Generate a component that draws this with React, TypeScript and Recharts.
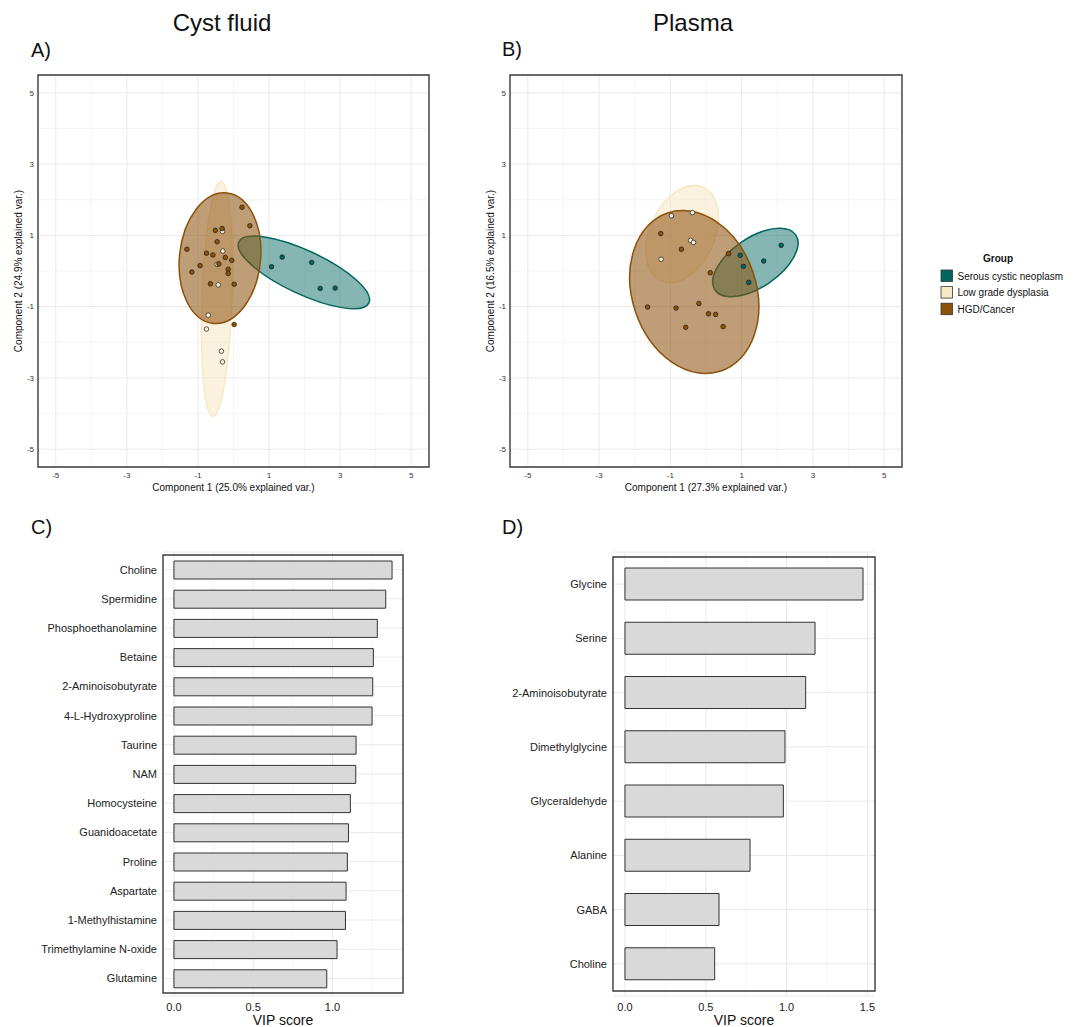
import React from "react";
import {
  ScatterChart,
  Scatter,
  BarChart,
  Bar,
  XAxis,
  YAxis,
  CartesianGrid,
  ReferenceArea,
} from "recharts";

const FONT = '"Liberation Sans", Arial, Helvetica, sans-serif';

const groupNames = ["Serous cystic neoplasm", "Low grade dysplasia", "HGD/Cancer"];
const groupColors = ["#01665e", "#f6e8c3", "#8c510a"];
const pointFills = ["#01665e", "#faf1dc", "#8c510a"];
const ellipseAlpha = [0.48, 0.55, 0.56];

// Panel A - cyst fluid scores
const cystScn = [
  { x: 1.07, y: 0.12 },
  { x: 1.37, y: 0.39 },
  { x: 2.2, y: 0.24 },
  { x: 2.44, y: -0.49 },
  { x: 2.86, y: -0.48 },
];
const cystLgd = [
  { x: -0.31, y: 1.11 },
  { x: -0.3, y: 0.56 },
  { x: -0.46, y: 0.19 },
  { x: -0.43, y: -0.39 },
  { x: -0.71, y: -1.24 },
  { x: -0.76, y: -1.63 },
  { x: -0.34, y: -2.25 },
  { x: -0.31, y: -2.55 },
];
const cystHgd = [
  { x: 0.24, y: 1.79 },
  { x: 0.46, y: 1.27 },
  { x: -0.51, y: 1.14 },
  { x: -0.32, y: 1.19 },
  { x: -0.46, y: 0.82 },
  { x: -1.31, y: 0.61 },
  { x: -0.76, y: 0.5 },
  { x: -0.58, y: 0.45 },
  { x: -0.23, y: 0.38 },
  { x: -0.05, y: 0.3 },
  { x: -0.94, y: 0.15 },
  { x: -0.41, y: 0.2 },
  { x: -1.17, y: -0.03 },
  { x: -0.15, y: 0.05 },
  { x: -0.15, y: -0.07 },
  { x: -0.65, y: -0.36 },
  { x: 0.02, y: -0.37 },
  { x: 0.02, y: -1.5 },
];
// 95% ellipses: centre, semi-axes, rotation in degrees
const cystEllipses = [
  { cx: 1.98, cy: -0.04, a: 2.02, b: 0.61, angle: -25 },
  { cx: -0.465, cy: -0.785, a: 3.3, b: 0.42, angle: 88 },
  { cx: -0.38, cy: 0.36, a: 1.84, b: 1.14, angle: 84 },
];

// Panel B - plasma scores
const plasmaScn = [
  { x: 0.96, y: 0.44 },
  { x: 1.05, y: 0.13 },
  { x: 1.2, y: -0.32 },
  { x: 1.62, y: 0.28 },
  { x: 2.11, y: 0.72 },
];
const plasmaLgd = [
  { x: -0.97, y: 1.55 },
  { x: -0.38, y: 1.64 },
  { x: -0.43, y: 0.86 },
  { x: -0.35, y: 0.8 },
  { x: -1.26, y: 0.33 },
];
const plasmaHgd = [
  { x: -1.27, y: 1.05 },
  { x: -0.69, y: 0.61 },
  { x: 0.12, y: -0.05 },
  { x: 0.63, y: 0.49 },
  { x: -1.64, y: -1.01 },
  { x: -0.84, y: -1.04 },
  { x: -0.2, y: -0.91 },
  { x: 0.07, y: -1.2 },
  { x: 0.27, y: -1.22 },
  { x: -0.57, y: -1.58 },
  { x: 0.48, y: -1.56 },
];
const plasmaEllipses = [
  { cx: 1.385, cy: 0.24, a: 1.37, b: 0.69, angle: 34.3 },
  { cx: -0.67, cy: 1.035, a: 1.44, b: 0.91, angle: 65.6 },
  { cx: -0.33, cy: -0.59, a: 2.34, b: 1.74, angle: 108.6 },
];

const scoreTicks = [-5, -3, -1, 1, 3, 5];
const scoreMinor = [-4, -2, 0, 2, 4];
const scoreDomain: [number, number] = [-5.5, 5.5];

// Panel C - cyst fluid VIP
const cystMetabolites = [
  "Choline",
  "Spermidine",
  "Phosphoethanolamine",
  "Betaine",
  "2-Aminoisobutyrate",
  "4-L-Hydroxyproline",
  "Taurine",
  "NAM",
  "Homocysteine",
  "Guanidoacetate",
  "Proline",
  "Aspartate",
  "1-Methylhistamine",
  "Trimethylamine  N-oxide",
  "Glutamine",
];
const cystVip = [1.376, 1.336, 1.283, 1.258, 1.254, 1.25, 1.149, 1.147, 1.113, 1.101, 1.094, 1.086, 1.082, 1.029, 0.964];
const cystVipTicks = [0, 0.5, 1.0];
const cystVipMinor = [0.25, 0.75, 1.25];
const cystVipDomain: [number, number] = [-0.069, 1.445];

// Panel D - plasma VIP
const plasmaMetabolites = [
  "Glycine",
  "Serine",
  "2-Aminoisobutyrate",
  "Dimethylglycine",
  "Glyceraldehyde",
  "Alanine",
  "GABA",
  "Choline",
];
const plasmaVip = [1.473, 1.176, 1.118, 0.99, 0.98, 0.774, 0.582, 0.555];
const plasmaVipTicks = [0, 0.5, 1.0, 1.5];
const plasmaVipMinor = [0.25, 0.75, 1.25];
const plasmaVipDomain: [number, number] = [-0.074, 1.547];

type Ell = { cx: number; cy: number; a: number; b: number; angle: number };

// centre plus the two semi-axis end points; the library maps them to pixels
const ellipseAnchors = (e: Ell) => {
  const t = (e.angle * Math.PI) / 180;
  return [
    { x: e.cx, y: e.cy },
    { x: e.cx + e.a * Math.cos(t), y: e.cy + e.a * Math.sin(t) },
    { x: e.cx - e.b * Math.sin(t), y: e.cy + e.b * Math.cos(t) },
  ];
};

const ellipseShape = (color: string, alpha: number) => (props: any) => {
  const pts = props.points;
  if (!pts || pts.length < 3) return <g />;
  const [c, u, v] = pts;
  const m = `matrix(${u.x - c.x} ${u.y - c.y} ${v.x - c.x} ${v.y - c.y} ${c.x} ${c.y})`;
  return (
    <ellipse
      cx={0}
      cy={0}
      rx={1}
      ry={1}
      transform={m}
      fill={color}
      fillOpacity={alpha}
      stroke={color}
      strokeWidth={1.5}
      vectorEffect="non-scaling-stroke"
    />
  );
};

const hidden = () => <g />;

const dotShape = (fill: string) => (p: any) => (
  <circle cx={p.cx} cy={p.cy} r={2.3} fill={fill} stroke="#1a1a1a" strokeWidth={0.7} />
);

function ScorePlot({
  groups,
  ellipses,
  yWidth,
  right,
}: {
  groups: { x: number; y: number }[][];
  ellipses: Ell[];
  yWidth: number;
  right: number;
}) {
  return (
    <ScatterChart
      width={440}
      height={440}
      margin={{ top: 15, right, bottom: 0, left: 0 }}
    >
      <CartesianGrid
        stroke="#f3f3f3"
        strokeWidth={0.8}
        verticalValues={scoreMinor}
        horizontalValues={scoreMinor}
      />
      <CartesianGrid
        stroke="#e9e9e9"
        strokeWidth={1}
        verticalValues={scoreTicks}
        horizontalValues={scoreTicks}
      />
      <XAxis
        type="number"
        dataKey="x"
        domain={scoreDomain}
        ticks={scoreTicks}
        height={33}
        axisLine={false}
        tickLine={false}
        tickSize={0}
        tickMargin={5}
        tick={{ fontSize: 8, fill: "#333", fontFamily: FONT }}
      />
      <YAxis
        type="number"
        dataKey="y"
        domain={scoreDomain}
        ticks={scoreTicks}
        width={yWidth}
        axisLine={false}
        tickLine={false}
        tickSize={0}
        tickMargin={4}
        tick={{ fontSize: 8, fill: "#333", fontFamily: FONT }}
      />
      {ellipses.map((e, i) => (
        <Scatter
          key={`ell-${i}`}
          data={ellipseAnchors(e)}
          shape={hidden}
          line={ellipseShape(groupColors[i], ellipseAlpha[i])}
          lineType="joint"
          isAnimationActive={false}
        />
      ))}
      {groups.map((g, i) => (
        <Scatter
          key={`pts-${i}`}
          name={groupNames[i]}
          data={g}
          shape={dotShape(pointFills[i])}
          isAnimationActive={false}
        />
      ))}
      <ReferenceArea
        x1={scoreDomain[0]}
        x2={scoreDomain[1]}
        y1={scoreDomain[0]}
        y2={scoreDomain[1]}
        fill="none"
        stroke="#3a3a3a"
        strokeWidth={1.4}
      />
    </ScatterChart>
  );
}

function VipPlot({
  names,
  values,
  ticks,
  minor,
  domain,
  yWidth,
  right,
  pad,
  barSize,
}: {
  names: string[];
  values: number[];
  ticks: number[];
  minor: number[];
  domain: [number, number];
  yWidth: number;
  right: number;
  pad: number;
  barSize: number;
}) {
  const data = names.map((name, i) => ({ name, vip: values[i] }));
  return (
    <BarChart
      width={420}
      height={487}
      layout="vertical"
      data={data}
      margin={{ top: 12, right, bottom: 0, left: 0 }}
    >
      <CartesianGrid stroke="#f3f3f3" strokeWidth={0.8} horizontal={false} verticalValues={minor} />
      <CartesianGrid stroke="#e9e9e9" strokeWidth={1} verticalValues={ticks} />
      <XAxis
        type="number"
        domain={domain}
        ticks={ticks}
        height={31}
        axisLine={false}
        tickLine={false}
        tickSize={0}
        tickMargin={7}
        tickFormatter={(v: number) => v.toFixed(1)}
        tick={{ fontSize: 11, fill: "#222", fontFamily: FONT }}
      />
      <YAxis
        type="category"
        dataKey="name"
        width={yWidth}
        padding={{ top: pad, bottom: pad }}
        axisLine={false}
        tickLine={false}
        tickSize={0}
        tickMargin={6}
        interval={0}
        tick={{ fontSize: 11, fill: "#222", fontFamily: FONT }}
      />
      <Bar
        dataKey="vip"
        fill="#d9d9d9"
        stroke="#333"
        strokeWidth={1}
        barSize={barSize}
        isAnimationActive={false}
      />
      <ReferenceArea
        x1={domain[0]}
        x2={domain[1]}
        fill="none"
        stroke="#3a3a3a"
        strokeWidth={1.4}
      />
    </BarChart>
  );
}

export default function App() {
  const txt = { fontFamily: FONT, fill: "#111" };
  return (
    <div
      style={{
        position: "absolute",
        left: 0,
        top: 0,
        width: 1083,
        height: 1027,
        background: "#fff",
        overflow: "hidden",
        fontFamily: FONT,
      }}
    >
      <div style={{ position: "absolute", left: 0, top: 60 }}>
        <ScorePlot
          groups={[cystScn, cystLgd, cystHgd]}
          ellipses={cystEllipses}
          yWidth={38}
          right={11}
        />
      </div>
      <div style={{ position: "absolute", left: 480, top: 60 }}>
        <ScorePlot
          groups={[plasmaScn, plasmaLgd, plasmaHgd]}
          ellipses={plasmaEllipses}
          yWidth={30}
          right={18}
        />
      </div>
      <div style={{ position: "absolute", left: 0, top: 540 }}>
        <VipPlot
          names={cystMetabolites}
          values={cystVip}
          ticks={cystVipTicks}
          minor={cystVipMinor}
          domain={cystVipDomain}
          yWidth={163}
          right={17}
          pad={3}
          barSize={18}
        />
      </div>
      <div style={{ position: "absolute", left: 480, top: 540 }}>
        <VipPlot
          names={plasmaMetabolites}
          values={plasmaVip}
          ticks={plasmaVipTicks}
          minor={plasmaVipMinor}
          domain={plasmaVipDomain}
          yWidth={133}
          right={25}
          pad={5}
          barSize={32}
        />
      </div>

      {/* titles, panel tags, axis titles and legend */}
      <svg
        width={1083}
        height={1027}
        style={{ position: "absolute", left: 0, top: 0, pointerEvents: "none" }}
      >
        <text x={222} y={31} fontSize={24} textAnchor="middle" {...txt}>Cyst fluid</text>
        <text x={693} y={31} fontSize={24} textAnchor="middle" {...txt}>Plasma</text>
        <text x={31} y={57} fontSize={20} {...txt}>A)</text>
        <text x={502} y={56} fontSize={20} {...txt}>B)</text>
        <text x={31} y={534} fontSize={20} {...txt}>C)</text>
        <text x={502} y={534} fontSize={20} {...txt}>D)</text>

        <text x={233.5} y={487} fontSize={10} textAnchor="middle" dominantBaseline="central" {...txt}>
          Component 1 (25.0% explained var.)
        </text>
        <text
          x={18}
          y={271}
          fontSize={10}
          textAnchor="middle"
          dominantBaseline="central"
          transform="rotate(-90 18 271)"
          {...txt}
        >
          Component 2 (24.9% explained var.)
        </text>
        <text x={706} y={487} fontSize={10} textAnchor="middle" dominantBaseline="central" {...txt}>
          Component 1 (27.3% explained var.)
        </text>
        <text
          x={490}
          y={271}
          fontSize={10}
          textAnchor="middle"
          dominantBaseline="central"
          transform="rotate(-90 490 271)"
          {...txt}
        >
          Component 2 (16.5% explained var.)
        </text>
        <text x={283} y={1020} fontSize={14} textAnchor="middle" dominantBaseline="central" {...txt}>
          VIP score
        </text>
        <text x={744} y={1020} fontSize={14} textAnchor="middle" dominantBaseline="central" {...txt}>
          VIP score
        </text>

        <text x={998} y={258} fontSize={10} fontWeight="bold" textAnchor="middle" dominantBaseline="central" {...txt}>
          Group
        </text>
        {groupNames.map((g, i) => (
          <g key={g}>
            <rect
              x={941}
              y={270 + i * 16.6}
              width={11.5}
              height={11.5}
              fill={groupColors[i]}
              stroke="#333"
              strokeWidth={0.8}
            />
            <text x={957.5} y={276 + i * 16.6} fontSize={10} dominantBaseline="central" {...txt}>
              {g}
            </text>
          </g>
        ))}
      </svg>
    </div>
  );
}
